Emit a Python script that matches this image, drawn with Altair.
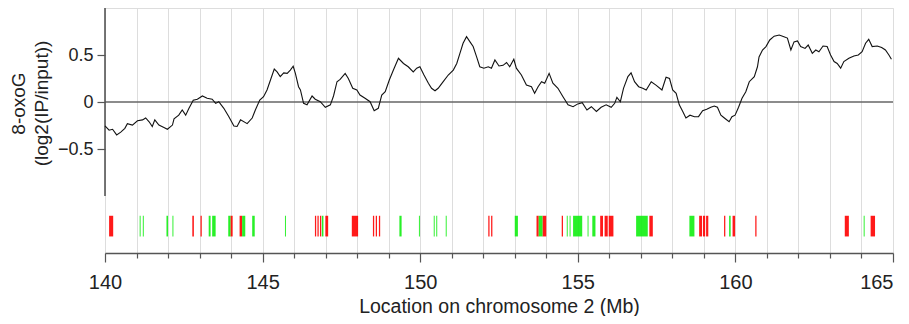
import altair as alt
import pandas as pd

# ---- signal trace (position in Mb, log2(IP/input)) ----
pos_mb = [140.00, 140.13, 140.24, 140.37, 140.50, 140.63, 140.71, 140.87, 141.03, 141.19,
          141.29, 141.40, 141.50, 141.58, 141.71, 141.87, 141.98, 142.14, 142.19, 142.34,
          142.45, 142.56, 142.66, 142.80, 142.93, 143.09, 143.24, 143.40, 143.51, 143.61,
          143.77, 143.93, 144.09, 144.19, 144.30, 144.51, 144.67, 144.77, 144.91, 145.03,
          145.14, 145.25, 145.37, 145.46, 145.56, 145.67, 145.78, 145.88, 145.97, 146.04,
          146.14, 146.20, 146.30, 146.41, 146.57, 146.67, 146.83, 146.99, 147.15, 147.25,
          147.36, 147.46, 147.62, 147.72, 147.86, 147.99, 148.09, 148.25, 148.41, 148.54,
          148.67, 148.78, 148.89, 149.02, 149.15, 149.31, 149.47, 149.62, 149.78, 149.89,
          149.99, 150.12, 150.26, 150.36, 150.47, 150.57, 150.73, 150.89, 151.05, 151.16,
          151.26, 151.36, 151.47, 151.58, 151.68, 151.79, 151.89, 152.02, 152.16, 152.26,
          152.37, 152.50, 152.63, 152.74, 152.84, 152.97, 153.05, 153.21, 153.37, 153.53,
          153.63, 153.74, 153.85, 153.95, 154.09, 154.21, 154.37, 154.53, 154.69, 154.85,
          155.00, 155.14, 155.29, 155.43, 155.59, 155.74, 155.90, 156.06, 156.17, 156.24,
          156.35, 156.45, 156.59, 156.69, 156.80, 156.93, 157.06, 157.17, 157.33, 157.48,
          157.67, 157.80, 157.91, 158.01, 158.12, 158.22, 158.33, 158.43, 158.56, 158.70,
          158.83, 158.96, 159.09, 159.22, 159.33, 159.43, 159.54, 159.65, 159.80, 159.89,
          159.99, 160.10, 160.21, 160.33, 160.44, 160.60, 160.70, 160.75, 160.86, 160.97,
          161.09, 161.23, 161.39, 161.54, 161.65, 161.76, 161.86, 161.97, 162.07, 162.21,
          162.31, 162.44, 162.55, 162.65, 162.78, 162.91, 163.02, 163.13, 163.23, 163.34,
          163.44, 163.60, 163.76, 163.90, 164.02, 164.13, 164.23, 164.34, 164.50, 164.64,
          164.76, 164.87, 164.95]
signal = [-0.255, -0.30, -0.29, -0.35, -0.32, -0.28, -0.23, -0.245, -0.20, -0.19,
          -0.17, -0.21, -0.26, -0.19, -0.245, -0.27, -0.29, -0.245, -0.18, -0.14,
          -0.085, -0.14, -0.07, 0.02, 0.03, 0.064, 0.04, 0.03, -0.015, 0.003,
          -0.067, -0.156, -0.255, -0.26, -0.19, -0.23, -0.17, -0.085, 0.02, 0.056,
          0.128, 0.234, 0.35, 0.32, 0.27, 0.31, 0.305, 0.34, 0.38, 0.305,
          0.163, 0.128, -0.014, -0.03, 0.064, 0.03, 0.003, -0.056, -0.03, 0.064,
          0.216, 0.24, 0.305, 0.25, 0.146, 0.128, 0.074, 0.04, 0.003, -0.093,
          -0.067, 0.074, 0.11, 0.234, 0.34, 0.465, 0.41, 0.375, 0.32, 0.36,
          0.375, 0.287, 0.20, 0.146, 0.12, 0.146, 0.216, 0.287, 0.34, 0.41,
          0.518, 0.625, 0.695, 0.64, 0.59, 0.48, 0.375, 0.36, 0.375, 0.36,
          0.447, 0.383, 0.39, 0.42, 0.375, 0.455, 0.36, 0.287, 0.18, 0.163,
          0.093, 0.163, 0.216, 0.20, 0.305, 0.20, 0.146, 0.056, -0.03, -0.05,
          -0.02, -0.007, -0.085, -0.05, -0.10, -0.056, -0.03, -0.056, -0.014, 0.05,
          0.003, 0.146, 0.27, 0.31, 0.216, 0.163, 0.146, 0.128, 0.216, 0.18,
          0.128, 0.263, 0.25, 0.128, 0.093, -0.03, -0.10, -0.17, -0.14, -0.156,
          -0.156, -0.093, -0.078, -0.056, -0.043, -0.056, -0.14, -0.17, -0.21, -0.156,
          -0.14, -0.056, 0.04, 0.11, 0.216, 0.27, 0.375, 0.48, 0.553, 0.59,
          0.66, 0.70, 0.713, 0.695, 0.68, 0.553, 0.64, 0.65, 0.59, 0.57,
          0.606, 0.518, 0.553, 0.535, 0.596, 0.59, 0.50, 0.43, 0.41, 0.36,
          0.43, 0.465, 0.49, 0.50, 0.535, 0.625, 0.667, 0.59, 0.596, 0.58,
          0.553, 0.50, 0.455]

# ---- feature strips (start, end in Mb) ----
red_start = [140.13, 142.77, 143.03, 143.98, 144.27, 146.66, 146.74, 146.82, 146.99, 147.83,
             148.50, 148.59, 148.69, 152.16, 152.25, 153.69, 153.88, 154.49, 155.71, 155.85,
             155.98, 157.27, 158.85, 158.97, 159.07, 159.64, 159.91, 160.63, 163.47, 164.29]
red_end   = [140.26, 142.82, 143.07, 144.05, 144.35, 146.70, 146.78, 146.86, 147.08, 148.03,
             148.54, 148.63, 148.73, 152.20, 152.29, 153.76, 154.00, 154.53, 155.80, 155.95,
             156.13, 157.38, 158.94, 159.04, 159.14, 159.68, 159.99, 160.67, 163.60, 164.43]
green_start = [141.10, 141.20, 141.95, 142.14, 143.29, 143.40, 143.91, 144.35, 144.67, 145.71,
               146.88, 149.34, 149.96, 150.43, 150.51, 150.81, 153.00, 153.76, 154.65, 154.74,
               154.85, 155.31, 155.46, 156.85, 158.54, 159.80, 164.07]
green_end   = [141.13, 141.23, 142.00, 142.17, 143.35, 143.51, 143.98, 144.45, 144.75, 145.74,
               146.93, 149.41, 149.99, 150.46, 150.54, 150.84, 153.10, 153.88, 154.68, 154.77,
               155.14, 155.34, 155.56, 157.22, 158.70, 159.85, 164.10]

x_ticks = list(range(140, 166))
y_ticks = [-0.5, 0, 0.5]

FONT = "Liberation Sans, Arial, sans-serif"
AXIS_COL = "#555555"
TEXT_COL = "#222222"
Y_MIN, Y_MAX = -1.606, 1.0
STRIP_TOP, STRIP_BOTTOM = -1.21, -1.43
X_TITLE = "Location on chromosome 2 (Mb)"
Y_TITLE = ["8-oxoG", "(log2(IP/input))"]

sig_df = pd.DataFrame({"pos": pos_mb, "val": signal})
strip_df = pd.DataFrame({
    "pos": red_start + green_start,
    "end": red_end + green_end,
    "kind": ["red"] * len(red_start) + ["green"] * len(green_start),
})
strip_df["val"] = STRIP_TOP
strip_df["bottom"] = STRIP_BOTTOM
yaxis_df = pd.DataFrame({"pos": [140.0], "val": [-1.0], "y2": [1.0]})
zero_df = pd.DataFrame({"pos": [140.0], "x2": [165.0], "val": [0.0]})

xscale = alt.Scale(domain=[140, 165], nice=False, zero=False)
yscale = alt.Scale(domain=[Y_MIN, Y_MAX], nice=False, zero=False)

x_axis = alt.Axis(
    values=x_ticks,
    title=X_TITLE,
    titleFont=FONT, titleFontSize=19.5, titleFontWeight="normal", titleColor=TEXT_COL,
    titleBaseline="alphabetic", titleY=59, titleAnchor="middle",
    labelFont=FONT, labelFontSize=20, labelColor=TEXT_COL,
    labelBaseline="alphabetic", labelPadding=26,
    labelExpr="datum.value % 5 === 0 ? datum.label : ''",
    labelAlign={"condition": {"test": "datum.value === 165", "value": "right"}, "value": "center"},
    labelOverlap=False,
    tickSize={"condition": {"test": "datum.value % 5 === 0", "value": 9}, "value": 5},
    tickColor=AXIS_COL, tickWidth=1.2,
    domainColor=AXIS_COL, domainWidth=1.5,
    grid=True, gridColor="#dddddd", gridWidth=1,
)

y_axis = alt.Axis(
    values=y_ticks,
    title=Y_TITLE,
    titleFont=FONT, titleFontSize=19, titleFontWeight="normal", titleColor=TEXT_COL,
    titleX=-87, titleY=95, titleAngle=-90, titleBaseline="middle", titleLineHeight=23,
    titleAlign="center",
    labelFont=FONT, labelFontSize=18, labelColor=TEXT_COL, labelPadding=4,
    labelExpr="datum.value === 0 ? '0' : format(datum.value, '.1f')",
    tickSize=8, tickColor=AXIS_COL, tickWidth=1.2,
    domain=False, grid=False,
)

X = alt.X("pos:Q", scale=xscale, axis=x_axis, title=X_TITLE)
Y = alt.Y("val:Q", scale=yscale, axis=y_axis, title=Y_TITLE)

line = alt.Chart(sig_df).mark_line(color="#111111", strokeWidth=1.1).encode(x=X, y=Y)

zero_rule = alt.Chart(zero_df).mark_rule(color="#666666", strokeWidth=1.5).encode(
    x=X, x2="x2:Q", y=Y,
)

yaxis_rule = alt.Chart(yaxis_df).mark_rule(color=AXIS_COL, strokeWidth=1.6).encode(
    x=X, y=Y, y2="y2:Q",
)

strips = alt.Chart(strip_df).mark_rect(opacity=0.9).encode(
    x=X, x2="end:Q", y=Y, y2="bottom:Q",
    color=alt.Color("kind:N", scale=alt.Scale(domain=["red", "green"], range=["#ff0000", "#11ee11"]), legend=None),
)

chart = alt.layer(strips, zero_rule, yaxis_rule, line).properties(
    width=788, height=245,
    autosize=alt.AutoSizeParams(type="none"),
    padding={"left": 97, "top": 0, "right": 8, "bottom": 63},
).configure_view(strokeWidth=0).configure(background="white")

chart.save("out.html", embed_options={"renderer": "svg", "actions": False})
